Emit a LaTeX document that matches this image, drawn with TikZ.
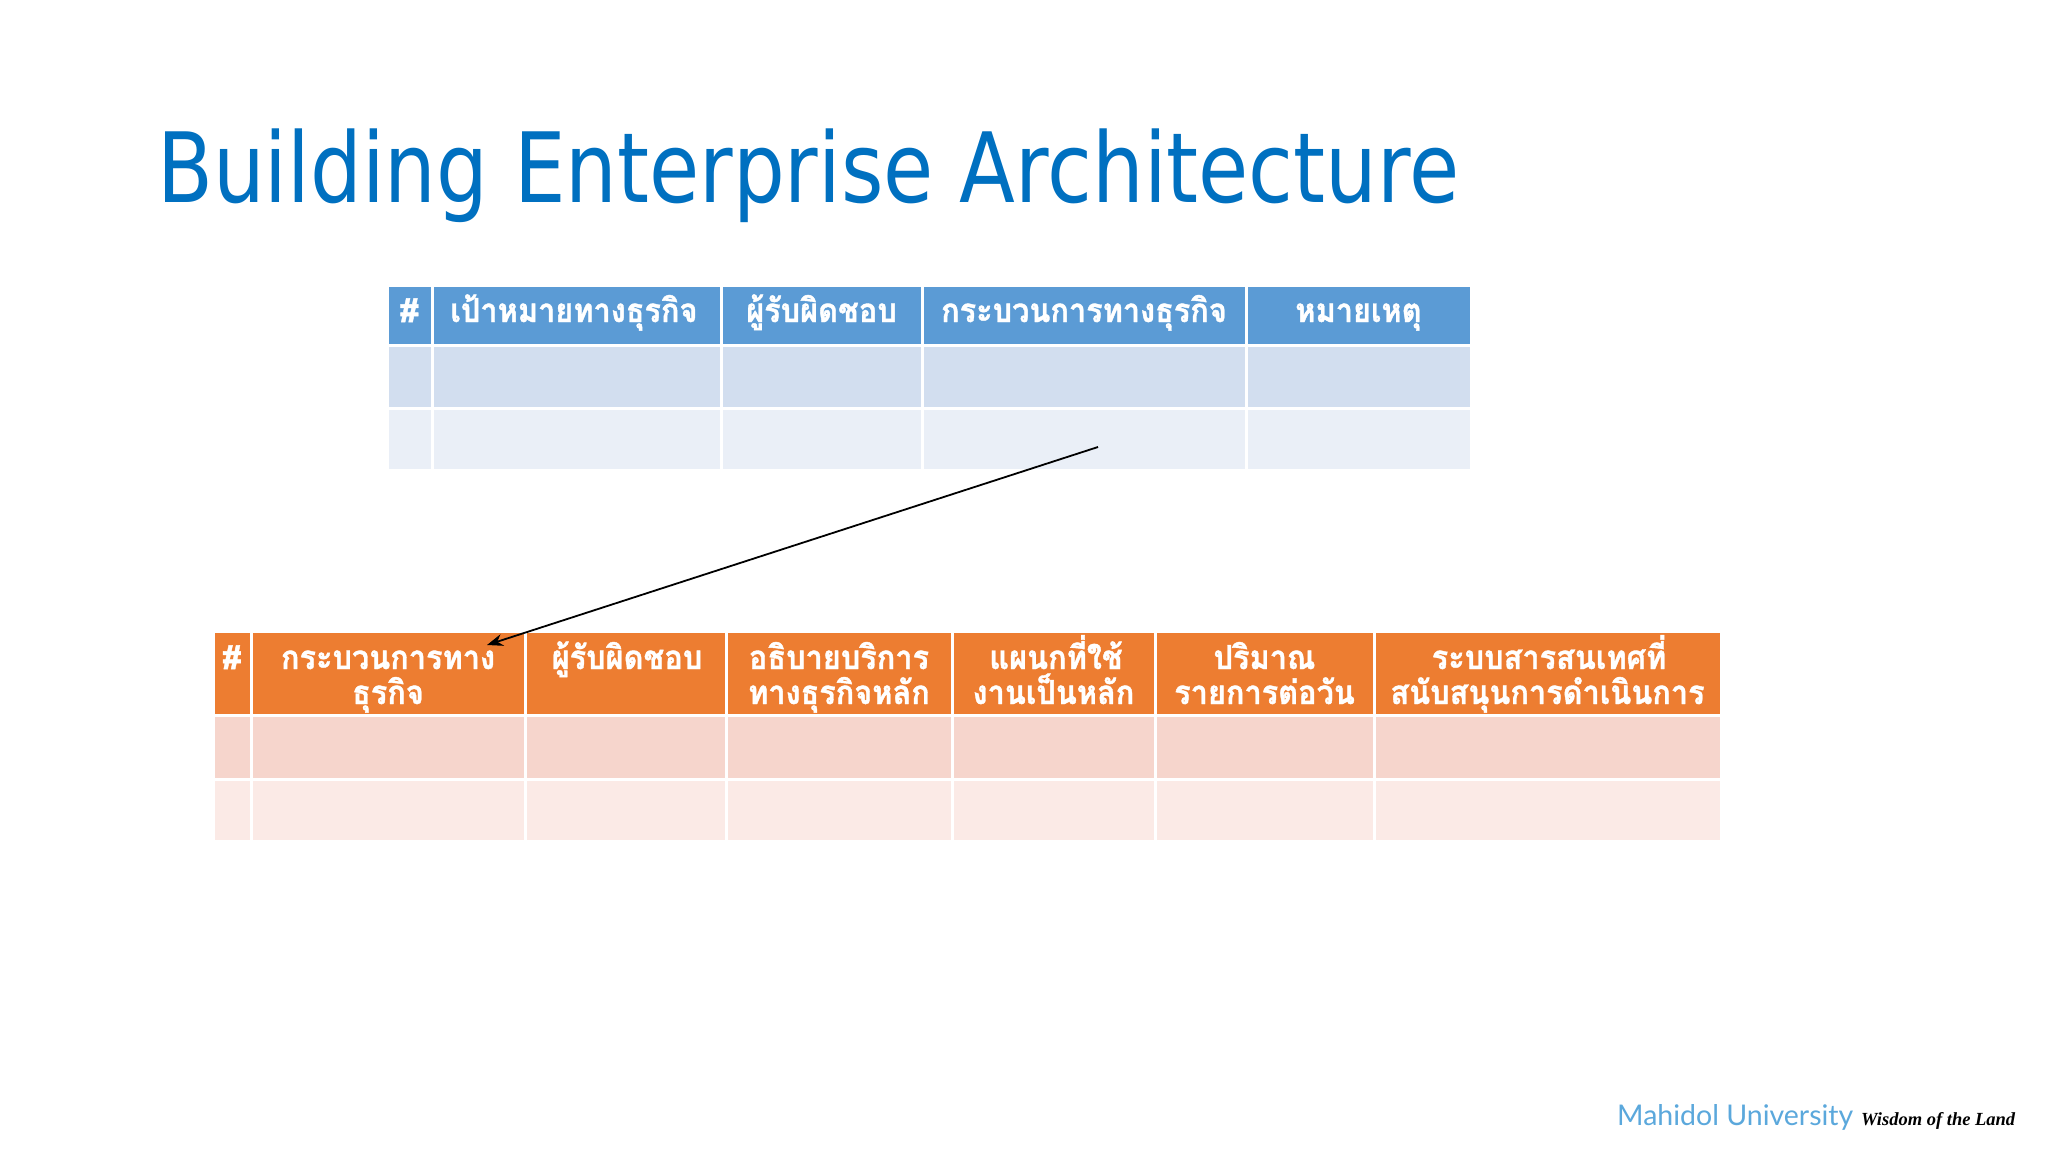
\documentclass[tikz,border=0pt]{standalone}
\usepackage{fontspec}
\usepackage{graphicx}
\usetikzlibrary{arrows.meta}
\setmainfont{DejaVu Sans}
\newfontfamily\thaib[Script=Thai, BoldFeatures={FakeBold=1.2}]{Loma}
\newfontfamily\latof{Lato}
\newfontfamily\seriff{Liberation Serif}
\newcommand\hx[1]{\scalebox{0.93}[1]{#1}}
\definecolor{titleblue}{HTML}{0070C0}
\definecolor{hblue}{HTML}{5B9BD5}
\definecolor{rblueA}{HTML}{D2DEEF}
\definecolor{rblueB}{HTML}{EAEFF7}
\definecolor{horange}{HTML}{ED7D31}
\definecolor{rorA}{HTML}{F6D5CC}
\definecolor{rorB}{HTML}{FBEAE6}
\definecolor{mublue}{HTML}{5BA8DC}
\tikzset{
  cellbox/.style={draw=white, line width=3pt},
  hdr/.style={text=white, font=\thaib\bfseries\fontsize{33}{36}\selectfont, anchor=base, inner sep=0pt},
}
\begin{document}
\begin{tikzpicture}[x=1pt,y=-1pt]
\useasboundingbox (0,0) rectangle (2048,1152);
\fill[white] (0,0) rectangle (2048,1152);
% title
\node[anchor=base west, inner sep=0pt, text=titleblue] (title) at (157,202)
  {\resizebox{1302pt}{\height}{\fontsize{97}{110}\selectfont Building Enterprise Architecture}};
% top table
\foreach \a/\b in {387/432,432/721,721/922,922/1246,1246/1471}{
  \fill[hblue, cellbox] (\a,285) rectangle (\b,345);
  \fill[rblueA, cellbox] (\a,345) rectangle (\b,408);
  \fill[rblueB, cellbox] (\a,408) rectangle (\b,470);
}
\node[hdr] (t1) at (409.5,322) {\#};
\node[hdr] (t2) at (574,322) {\hx{เป้าหมายทางธุรกิจ}};
\node[hdr] (t3) at (821.5,322) {\hx{ผู้รับผิดชอบ}};
\node[hdr] (t4) at (1084,322) {\hx{กระบวนการทางธุรกิจ}};
\node[hdr] (t5) at (1358.5,322) {\hx{หมายเหตุ}};
% bottom table
\foreach \a/\b in {213/251,251/525,525/726,726/952,952/1155,1155/1374,1374/1721}{
  \fill[horange, cellbox] (\a,631) rectangle (\b,715);
  \fill[rorA, cellbox] (\a,715) rectangle (\b,779);
  \fill[rorB, cellbox] (\a,779) rectangle (\b,841);
}
\node[hdr] (b1) at (232,669) {\#};
\node[hdr] (b2a) at (388,669) {\hx{กระบวนการทาง}};
\node[hdr] (b2b) at (388,704) {\hx{ธุรกิจ}};
\node[hdr] (b3) at (627,669) {\hx{ผู้รับผิดชอบ}};
\node[hdr] (b4a) at (839,669) {\hx{อธิบายบริการ}};
\node[hdr] (b4b) at (839,704) {\hx{ทางธุรกิจหลัก}};
\node[hdr] (b5a) at (1056,669) {\hx{แผนกที่ใช้}};
\node[hdr] (b5b) at (1053.5,704) {\hx{งานเป็นหลัก}};
\node[hdr] (b6a) at (1264.5,669) {\hx{ปริมาณ}};
\node[hdr] (b6b) at (1264.5,704) {\hx{รายการต่อวัน}};
\node[hdr] (b7a) at (1549,669) {\hx{ระบบสารสนเทศที่}};
\node[hdr] (b7b) at (1547.5,704) {\hx{สนับสนุนการดำเนินการ}};
% arrow
\coordinate (arrS) at (1098,447);
\coordinate (arrE) at (487,645);
\draw[-{Stealth[length=16pt,width=12pt]}, line width=1.8pt] (arrS) -- (arrE);
% footer
\node[anchor=base west, inner sep=0pt, text=mublue] (mu) at (1617,1125)
  {\latof\fontsize{28.5}{28.5}\selectfont Mahidol University};
\node[anchor=base west, inner sep=0pt] (wl) at (1861,1125)
  {\seriff\itshape\bfseries\fontsize{18.5}{18.5}\selectfont Wisdom of the Land};
\end{tikzpicture}
\end{document}
